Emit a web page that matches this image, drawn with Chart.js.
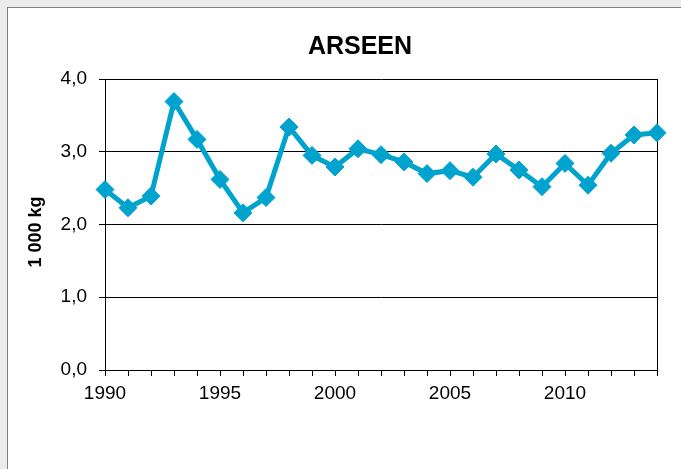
<!DOCTYPE html>
<html lang="en">
<head>
  <meta charset="UTF-8" />
  <title>Arseen</title>
  <script src="https://cdn.jsdelivr.net/npm/chart.js"></script>
  <style>
    html, body { margin: 0; padding: 0; background: #ebebeb; overflow: hidden; width: 681px; height: 469px; }
    .panel { position: absolute; left: 7px; top: 7px; width: 720px; height: 470px; background: #fff; border: 1px solid #808080; }
    canvas { display: block; }
  </style>
</head>
<body>
  <div class="panel">
    <canvas id="arseenChart" width="704" height="462"></canvas>
  </div>

  <script>
    // years on the x axis
    const years = [1990, 1991, 1992, 1993, 1994, 1995, 1996, 1997, 1998, 1999, 2000, 2001, 2002,
                   2003, 2004, 2005, 2006, 2007, 2008, 2009, 2010, 2011, 2012, 2013, 2014];
    // emissions, 1 000 kg
    const arseen = [2.48, 2.23, 2.39, 3.69, 3.17, 2.62, 2.16, 2.37, 3.34, 2.95, 2.79, 3.04, 2.96,
                    2.86, 2.70, 2.74, 2.65, 2.97, 2.75, 2.52, 2.84, 2.54, 2.98, 3.23, 3.26];
    const labelYears = [1990, 1995, 2000, 2005, 2010];
    const yTicks = [0, 1, 2, 3, 4];

    const font = 'Liberation Sans, Arial, sans-serif';
    const lineColor = '#00a3cd';

    const ctx = document.getElementById('arseenChart').getContext('2d');
    new Chart(ctx, {
      type: 'line',
      data: {
        labels: years,
        datasets: [{
          label: 'Arseen',
          data: arseen,
          borderColor: lineColor,
          backgroundColor: lineColor,
          borderWidth: 5,
          pointStyle: 'rectRot',
          pointRadius: 9,
          pointBorderWidth: 1,
          pointBackgroundColor: lineColor,
          pointBorderColor: lineColor,
          tension: 0
        }]
      },
      options: {
        responsive: false,
        animation: false,
        devicePixelRatio: 1,
        layout: { padding: 0 },
        plugins: {
          legend: { display: false },
          tooltip: { enabled: false },
          title: {
            display: true,
            text: 'ARSEEN',
            color: '#000',
            font: { family: font, size: 25, weight: 'bold' },
            padding: { top: 24, bottom: 17 }
          }
        },
        scales: {
          x: {
            type: 'category',
            offset: false,
            afterFit: (scale) => { scale.height = 100; },
            grid: { drawOnChartArea: false, drawTicks: true, tickLength: 6, color: '#000' },
            border: { display: true, color: '#000', width: 1 },
            ticks: {
              autoSkip: false,
              maxRotation: 0,
              padding: 6,
              color: '#000',
              font: { family: font, size: 19 },
              callback: function (value) {
                const y = years[value];
                return labelYears.includes(y) ? String(y) : '';
              }
            }
          },
          y: {
            min: 0,
            max: 4,
            afterFit: (scale) => { scale.width = 97; },
            afterBuildTicks: (scale) => { scale.ticks = yTicks.map(v => ({ value: v })); },
            grid: { color: '#000', lineWidth: 1, tickLength: 6 },
            border: { display: true, color: '#000', width: 1 },
            ticks: {
              padding: 12,
              color: '#000',
              font: { family: font, size: 19 },
              callback: (v) => v.toFixed(1).replace('.', ',')
            },
            title: {
              display: true,
              text: '1 000 kg\u00a0\u00a0\u00a0',
              color: '#000',
              font: { family: font, size: 18, weight: 'bold' },
              padding: { top: 17, bottom: 0 }
            }
          },
          y2: {
            position: 'right',
            min: 0,
            max: 4,
            afterFit: (scale) => { scale.width = 55; },
            grid: { display: false },
            border: { display: true, color: '#000', width: 1 },
            ticks: { display: false }
          }
        }
      }
    });
  </script>
</body>
</html>
